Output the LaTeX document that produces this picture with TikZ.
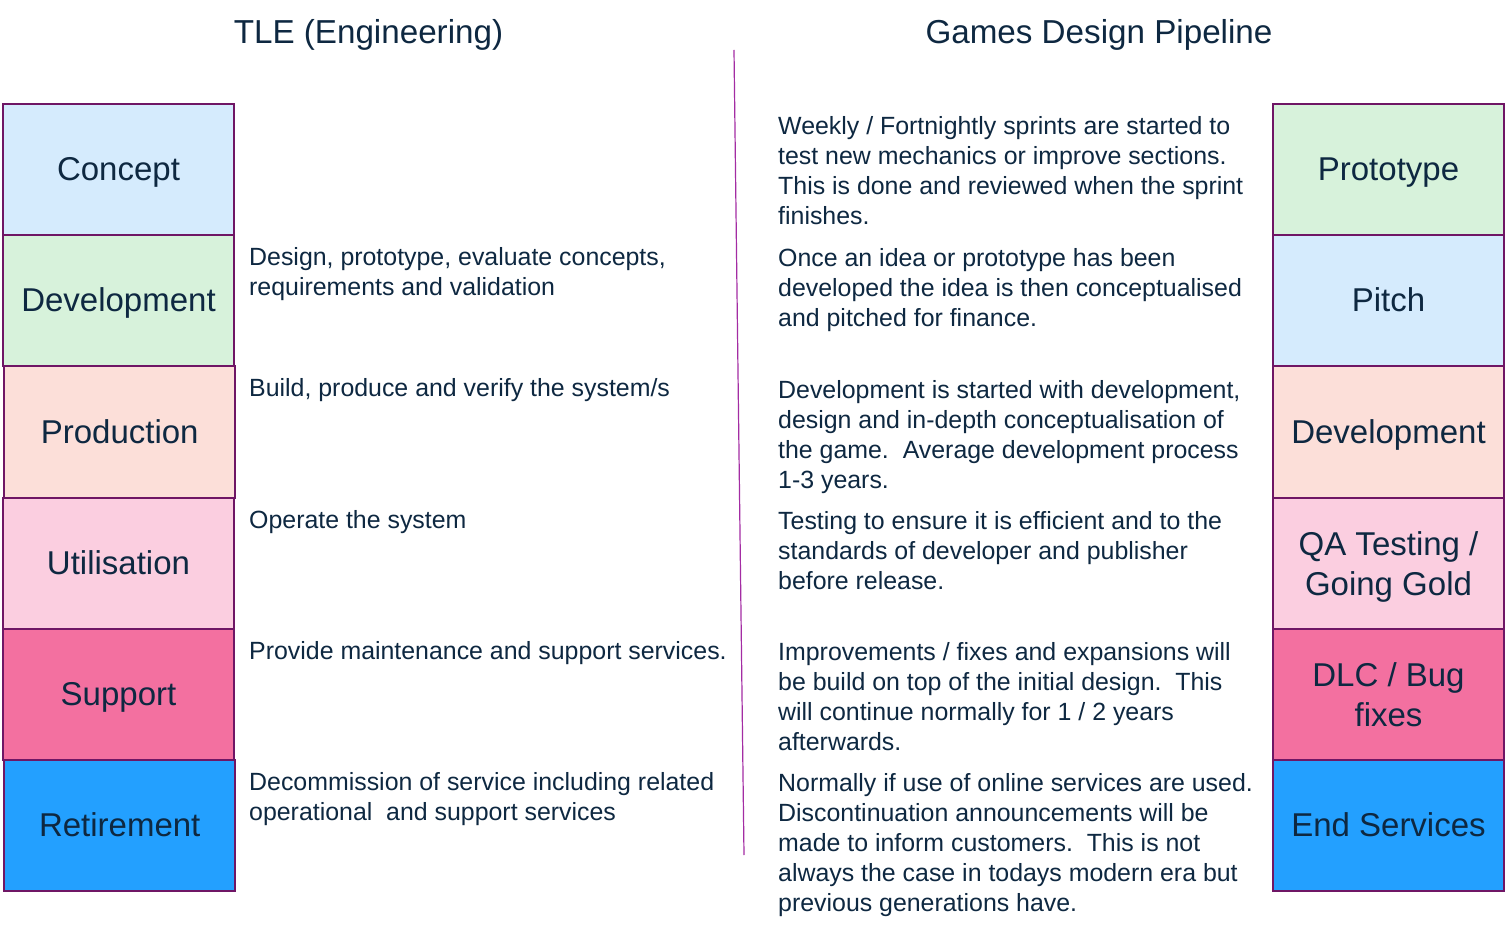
\documentclass[tikz,border=0pt]{standalone}
\usepackage{fontspec}
\setmainfont{Liberation Sans}
\frenchspacing
\definecolor{txt}{HTML}{0E2841}
\definecolor{bord}{HTML}{6F1665}
\definecolor{cblue}{HTML}{D5EBFD}
\definecolor{cgreen}{HTML}{D7F2DB}
\definecolor{cpeach}{HTML}{FCDFD9}
\definecolor{cpink}{HTML}{FBCEE0}
\definecolor{chot}{HTML}{F370A0}
\definecolor{cdeep}{HTML}{23A0FF}
\definecolor{divline}{HTML}{A32CA3}
\tikzset{
  stage/.style={draw=bord, line width=2pt, minimum width=231pt, minimum height=131.2pt,
    inner sep=0pt, text=txt, align=center, text depth=3pt, font=\fontsize{33}{40}\selectfont},
  oneline/.style={text height=25pt},
  twoline/.style={text depth=-3pt},
  desc/.style={anchor=base west, inner sep=0pt, text=txt, align=left,
    font=\fontsize{24.9}{30}\selectfont},
  title/.style={anchor=base, inner sep=0pt, text=txt, font=\fontsize{33.2}{40}\selectfont}
}
\begin{document}
\begin{tikzpicture}[x=1pt,y=-1pt]
\useasboundingbox (0,0) rectangle (1508,933);
\fill[white] (0,0) rectangle (1508,933);
% titles
\node[title] (tle) at (368.5,44) {TLE (Engineering)};
\node[title] (gdp) at (1099,44) {Games Design Pipeline};
% divider
\coordinate (dtop) at (734,50);
\coordinate (dbot) at (744,855);
\draw[divline, line width=1.2pt] (dtop) -- (dbot);
% left column
\node[stage, oneline, fill=cblue] (concept) at (118.5,169.6) {Concept};
\node[stage, oneline, fill=cgreen] (ldev) at (118.5,300.8) {Development};
\node[stage, oneline, fill=cpeach] (prod) at (119.7,432.0) {Production};
\node[stage, oneline, fill=cpink] (util) at (118.5,563.2) {Utilisation};
\node[stage, oneline, fill=chot] (supp) at (118.5,694.4) {Support};
\node[stage, oneline, fill=cdeep] (ret) at (119.7,825.6) {Retirement};
% right column
\node[stage, oneline, fill=cgreen] (proto) at (1388.5,169.6) {Prototype};
\node[stage, oneline, fill=cblue] (pitch) at (1388.5,300.8) {Pitch};
\node[stage, oneline, fill=cpeach] (rdev) at (1388.5,432.0) {Development};
\node[stage, twoline, fill=cpink] (qa) at (1388.5,563.2) {QA Testing /\\Going Gold};
\node[stage, twoline, fill=chot] (dlc) at (1388.5,694.4) {DLC / Bug\\fixes};
\node[stage, oneline, fill=cdeep] (endsv) at (1388.5,825.6) {End Services};
% left descriptions (anchor = baseline of last line)
\node[desc] (d1) at (249,296) {Design, prototype, evaluate concepts,\\requirements and validation};
\node[desc] (d2) at (249,396) {Build, produce and verify the system/s};
\node[desc] (d3) at (249,528) {Operate the system};
\node[desc] (d4) at (249,659) {Provide maintenance and support services.};
\node[desc] (d5) at (249,820) {Decommission of service including related\\operational\ \ and support services};
% right descriptions
\node[desc] (r1) at (778,225) {Weekly / Fortnightly sprints are started to\\test new mechanics or improve sections.\\This is done and reviewed when the sprint\\finishes.};
\node[desc] (r2) at (778,327) {Once an idea or prototype has been\\developed the idea is then conceptualised\\and pitched for finance.};
\node[desc] (r3) at (778,488) {Development is started with development,\\design and in-depth conceptualisation of\\the game.\ \ Average development process\\1-3 years.};
\node[desc] (r4) at (778,589) {Testing to ensure it is efficient and to the\\standards of developer and publisher\\before release.};
\node[desc] (r5) at (778,750) {Improvements / fixes and expansions will\\be build on top of the initial design.\ \ This\\will continue normally for 1 / 2 years\\afterwards.};
\node[desc] (r6) at (778,911) {Normally if use of online services are used.\\Discontinuation announcements will be\\made to inform customers.\ \ This is not\\always the case in todays modern era but\\previous generations have.};
\end{tikzpicture}
\end{document}
